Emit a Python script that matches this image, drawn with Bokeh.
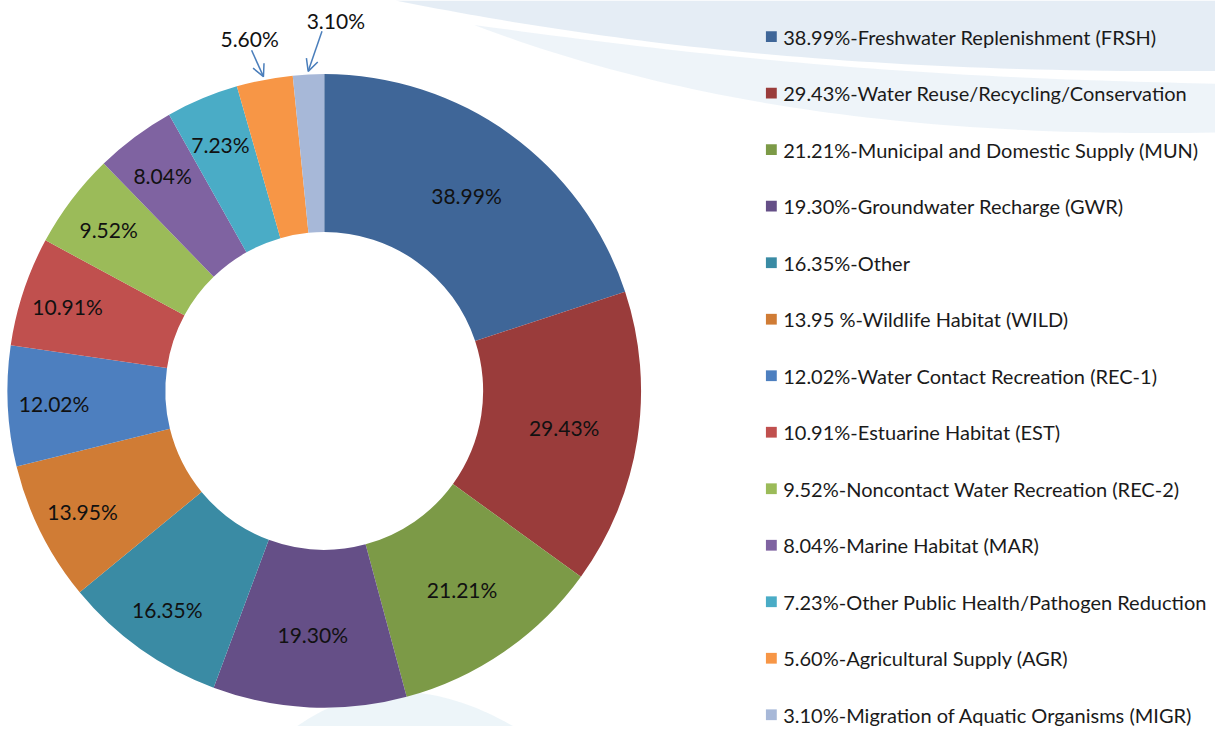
import numpy as np
from bokeh.plotting import figure
from bokeh.models import ColumnDataSource, Range1d, Arrow, OpenHead
from bokeh.core.properties import value
from bokeh.embed import file_html
from bokeh.resources import INLINE

# ---------------- data ----------------
values = [38.99, 29.43, 21.21, 19.30, 16.35, 13.95, 12.02, 10.91, 9.52, 8.04, 7.23, 5.60, 3.10]
slice_labels = ["38.99%", "29.43%", "21.21%", "19.30%", "16.35%", "13.95%", "12.02%",
                "10.91%", "9.52%", "8.04%", "7.23%", "5.60%", "3.10%"]
legend_labels = [
    "38.99%-Freshwater Replenishment (FRSH)",
    "29.43%-Water Reuse/Recycling/Conservation",
    "21.21%-Municipal and Domestic Supply (MUN)",
    "19.30%-Groundwater Recharge (GWR)",
    "16.35%-Other",
    "13.95 %-Wildlife Habitat (WILD)",
    "12.02%-Water Contact Recreation (REC-1)",
    "10.91%-Estuarine Habitat (EST)",
    "9.52%-Noncontact Water Recreation (REC-2)",
    "8.04%-Marine Habitat (MAR)",
    "7.23%-Other Public Health/Pathogen Reduction",
    "5.60%-Agricultural Supply (AGR)",
    "3.10%-Migration of Aquatic Organisms (MIGR)",
]
colors = ["#3F6698", "#9A3C3B", "#7C9A47", "#654F87", "#3A8BA4", "#D07C35", "#4D7FBF",
          "#C0504E", "#9BBB59", "#7F63A1", "#4AACC6", "#F79646", "#A7B8D8"]
outside = [False] * 11 + [True, True]

# ---------------- layout constants ----------------
REF_W, REF_H = 1231, 742
W, H = 1215, 726
FONT = "Lato"


def Y(sy):
    return REF_H - sy


p = figure(width=W, height=H, x_range=Range1d(0, REF_W), y_range=Range1d(0, REF_H),
           output_backend="svg", toolbar_location=None, min_border=0,
           min_border_left=0, min_border_right=0, min_border_top=0, min_border_bottom=0)
p.xaxis.visible = False
p.yaxis.visible = False
p.grid.visible = False
p.outline_line_color = None
p.background_fill_color = "white"
p.border_fill_color = "white"

# ---------------- decorative background swooshes ----------------
def bez(p0, p1, p2, p3, n=60):
    t = np.linspace(0, 1, n)[:, None]
    pts = ((1 - t) ** 3) * np.array(p0) + 3 * ((1 - t) ** 2) * t * np.array(p1) \
        + 3 * (1 - t) * t * t * np.array(p2) + (t ** 3) * np.array(p3)
    return pts[:, 0], pts[:, 1]

bx, by = bez((400, 0), (600, 40), (850, 75), (1231, 72))
p.patch(list(bx) + [1231, 1231], [Y(v) for v in by] + [Y(0), Y(0)],
        fill_color="#dae6f1", fill_alpha=0.7, line_color=None)
bx2, by2 = bez((480, 25), (700, 110), (950, 140), (1231, 135))
tx2, ty2 = bez((1231, 85), (1000, 80), (800, 70), (480, 25))
p.patch(list(bx2) + list(tx2), [Y(v) for v in by2] + [Y(v) for v in ty2],
        fill_color="#e8f0f7", fill_alpha=0.75, line_color=None)
bx3, by3 = bez((300, 742), (360, 700), (430, 690), (520, 742))
p.patch(list(bx3), [Y(v) for v in by3], fill_color="#e6f1f6", fill_alpha=0.7, line_color=None)

# ---------------- donut ----------------
CX, CY = 328, Y(399)
R_OUT, R_IN = 321, 161

vals = np.array(values, dtype=float)
frac = vals / vals.sum()
cum_after = np.cumsum(frac)
cum_before = cum_after - frac
start = np.pi / 2 - 2 * np.pi * cum_before
end = np.pi / 2 - 2 * np.pi * cum_after
mid = (start + end) / 2

src = ColumnDataSource(dict(start=start, end=end, color=colors))
p.annular_wedge(x=CX, y=CY, inner_radius=R_IN, outer_radius=R_OUT,
                start_angle="start", end_angle="end", direction="clock",
                fill_color="color", line_color=None, source=src)

# inside labels
lx, ly, lt = [], [], []
for i, m in enumerate(mid):
    if outside[i]:
        continue
    c = np.cos(m)
    r = 246 + 28 * min(1.0, max(0.0, -c) * 2.5)
    lx.append(CX + r * np.cos(m))
    ly.append(CY + r * np.sin(m))
    lt.append(slice_labels[i])
p.text(x=lx, y=ly, text=lt, text_align="center", text_baseline="middle",
       text_font=value(FONT), text_font_size="21px", text_color="#111111")

# outside labels with arrows
callout_offsets = {11: ((-12, 27), (-14, 39)), 12: ((14, 41), (28, 52))}
for i, (arr_off, txt_off) in callout_offsets.items():
    m = mid[i]
    ex, ey = CX + (R_OUT + 6) * np.cos(m), CY + (R_OUT + 6) * np.sin(m)
    sx, sy = ex + arr_off[0], ey + arr_off[1]
    p.add_layout(Arrow(end=OpenHead(size=12, line_color="#4A7EBB", line_width=1.5),
                       x_start=sx, y_start=sy, x_end=ex, y_end=ey,
                       line_color="#4A7EBB", line_width=1.5))
    p.text(x=[ex + txt_off[0]], y=[ey + txt_off[1]], text=[slice_labels[i]],
           text_align="center", text_baseline="middle",
           text_font=value(FONT), text_font_size="21px", text_color="#111111")

# ---------------- legend ----------------
LEG_X, LEG_Y0, LEG_DY = 781, 37, 57.75
rows_y = [Y(LEG_Y0 + k * LEG_DY) for k in range(len(legend_labels))]
p.rect(x=[LEG_X] * len(rows_y), y=rows_y, width=11, height=11,
       fill_color=colors, line_color=None)
p.text(x=[LEG_X + 12] * len(rows_y), y=rows_y, text=legend_labels,
       text_align="left", text_baseline="middle",
       text_font=value(FONT), text_font_size="20px", text_color="#1a1a1a")

open("out.html", "w").write(file_html(p, INLINE))
